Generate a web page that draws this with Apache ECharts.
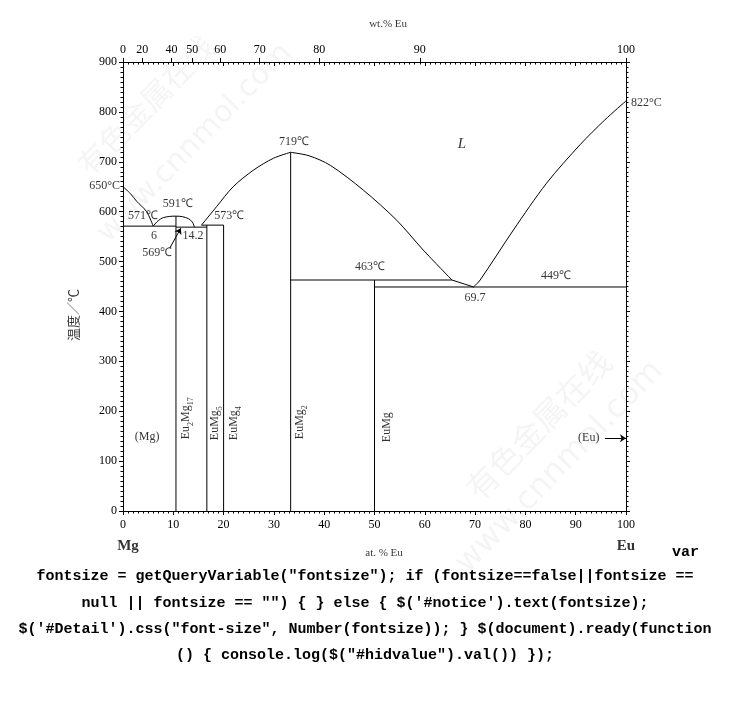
<!DOCTYPE html>
<html><head><meta charset="utf-8">
<script src="https://cdn.jsdelivr.net/npm/echarts@6/dist/echarts.min.js"></script>
<style>
html,body{margin:0;padding:0;background:#fff;}
#c{position:absolute;left:0;top:0;width:730px;height:705px;}
.js{position:absolute;font-family:"Liberation Mono","DejaVu Sans Mono",monospace;font-weight:bold;font-size:15px;color:#000;white-space:pre;line-height:18px;}
</style></head><body>
<div id="c"></div>
<div class="js" style="left:672px;top:544px;">var</div>
<div class="js" style="left:0;width:730px;text-align:center;top:568px;">fontsize = getQueryVariable("fontsize"); if (fontsize==false||fontsize ==</div>
<div class="js" style="left:0;width:730px;text-align:center;top:595px;">null || fontsize == "") { } else { $('#notice').text(fontsize);</div>
<div class="js" style="left:0;width:730px;text-align:center;top:621px;">$('#Detail').css("font-size", Number(fontsize)); } $(document).ready(function</div>
<div class="js" style="left:0;width:730px;text-align:center;top:647px;">() { console.log($("#hidvalue").val()) });</div>
<script>
// ---- data (x: at.% Eu, y: temperature °C) ----
const liqMgSide     = [[0,650],[1.5,636],[2.7,621],[4.7,600],[6,571]];
const dome591       = [[6,571],[7,582],[8,588],[9.3,590.5],[10.53,591],[11.8,590],[13,586],[13.8,579],[14.2,569]];
const eut571        = [[0,571],[10.53,571]];
const eut569        = [[10.53,569],[16.67,569]];
const per573        = [[15.6,573],[20,573]];
const lineEu2Mg17   = [[10.53,0],[10.53,591]];
const lineEuMg5     = [[16.67,0],[16.67,573]];
const lineEuMg4     = [[20,0],[20,573]];
const liqEuMg2Left  = [[15.6,573],[18.6,610],[21.9,650],[25.9,683],[29.9,707],[33.33,719]];
const liqEuMg2Right = [[33.33,719],[37,712],[41.2,693],[47.8,643],[54.4,583],[59.7,523],[65.4,463]];
const liqToEut      = [[65.4,463],[69.7,449]];
const liqEuSide     = [[69.7,449],[71,463],[77.6,563],[84.2,657],[90.85,734],[95.8,784],[100,822]];
const lineEuMg2     = [[33.33,0],[33.33,719]];
const per463        = [[33.33,463],[65.4,463]];
const lineEuMg      = [[50,0],[50,463]];
const eut449        = [[50,449],[100,449]];
const arrow569      = [[9.3,527],[11.5,567]];
const arrowEu       = [[95.8,146],[100,146]];

const bottomTicks = [0,10,20,30,40,50,60,70,80,90,100];
const tempTicks   = [0,100,200,300,400,500,600,700,800,900];
const wtTicks     = [0,20,40,50,60,70,80,90,100];

// annotations: [at.%, °C, text]
const pointLabels = [
  [4.0,591,'571℃'],[6.16,551,'6'],[10.9,615,'591℃'],[6.8,517,'569℃'],
  [13.9,551,'14.2'],[21.1,591,'573℃'],[34.0,740,'719℃'],[49.1,489,'463℃'],
  [86.1,471,'449℃'],[70.0,427,'69.7'],[4.8,148,'(Mg)'],[92.6,146,'(Eu)']
];
const phaseLabels = [
  [12.5,186,'{a|Eu}{s|2}{a|Mg}{s|17}'],[18.3,176,'{a|EuMg}{s|5}'],[22.1,176,'{a|EuMg}{s|4}'],
  [35.2,178,'{a|EuMg}{s|2}'],[52.5,168,'{a|EuMg}']
];

// wt.% -> at.% conversion for the top axis (Eu 151.96, Mg 24.305)
const toAt = w => { const a = w/151.96, b = (100-w)/24.305; return a/(a+b)*100; };
const wtAt = wtTicks.map(toAt);

const serif = 'Liberation Serif';
const black = '#000';

function lineSeries(data, smooth){
  return {type:'line', data, showSymbol:false, symbol:'none', smooth: smooth?0.3:false,
    lineStyle:{color:black,width:1}, silent:true, z:3, animation:false, clip:false};
}
function arrowSeries(pts){
  return {type:'lines', coordinateSystem:'cartesian2d', symbol:['none','arrow'], symbolSize:6,
    lineStyle:{color:black,width:1,opacity:1}, data:[{coords:pts}], silent:true, animation:false, z:4};
}

const chart = echarts.init(document.getElementById('c'), null, {renderer:'canvas'});

const labelItems = pointLabels.map(p => ({value:[p[0],p[1]], label:{formatter:p[2]}}));
labelItems.push({value:[67.4,736], label:{formatter:'L', fontStyle:'italic', fontSize:15}});
labelItems.push({value:[0,651], label:{formatter:'650°C', position:'left', distance:3}});
labelItems.push({value:[100,818], label:{formatter:'822°C', position:'right', distance:5}});
labelItems.push({value:[1,-70], label:{formatter:'Mg', fontWeight:'bold', fontSize:15}});
labelItems.push({value:[100,-70], label:{formatter:'Eu', fontWeight:'bold', fontSize:15}});
labelItems.push({value:[51.9,-84], label:{formatter:'at. % Eu', fontSize:11}});
labelItems.push({value:[52.7,976], label:{formatter:'wt.% Eu', fontSize:11}});
labelItems.push({value:[-10,393], label:{formatter:'温度／℃', rotate:90, fontFamily:'Noto Sans CJK SC', fontSize:13}});

const phaseItems = phaseLabels.map(p => ({value:[p[0],p[1]], label:{formatter:p[2]}}));

const axLine = {show:true,onZero:false,lineStyle:{color:black,width:1}};
const wm = 'rgba(0,0,0,0.045)';
const option = {
  animation:false,
  backgroundColor:'#fff',
  grid:{left:123,right:104,top:62,bottom:194,containLabel:false},
  xAxis:[
    {type:'value',min:0,max:100,interval:10,position:'bottom',
     axisLine:axLine,
     axisTick:{show:true,length:4,lineStyle:{color:black}},
     minorTick:{show:true,splitNumber:10,length:2.5,lineStyle:{color:black}},
     axisLabel:{color:black,fontFamily:serif,fontSize:12,margin:8,
       formatter:v=> bottomTicks.includes(v)? String(v):''},
     splitLine:{show:false}},
    {type:'value',min:0,max:100,interval:10,position:'top',offset:0,
     axisLine:axLine,
     axisTick:{show:true,inside:true,length:4,lineStyle:{color:black}},
     minorTick:{show:true,splitNumber:10,length:2.5,lineStyle:{color:black}},
     axisLabel:{show:false},splitLine:{show:false}},
    {type:'value',min:0,max:100,position:'top',offset:0,
     axisLine:{show:false,onZero:false},
     axisTick:{show:true,customValues:wtAt,length:4,lineStyle:{color:black}},
     axisLabel:{show:true,customValues:wtAt,color:black,fontFamily:serif,fontSize:12,margin:6,
       formatter:(v)=>{let bi=0,bd=1e9;wtAt.forEach((a,i)=>{const d=Math.abs(a-v);if(d<bd){bd=d;bi=i;}});return String(wtTicks[bi]);}},
     splitLine:{show:false}}
  ],
  yAxis:[
    {type:'value',min:0,max:900,interval:100,position:'left',
     axisLine:axLine,
     axisTick:{show:true,length:4,lineStyle:{color:black}},
     minorTick:{show:true,splitNumber:10,length:2.5,lineStyle:{color:black}},
     axisLabel:{color:black,fontFamily:serif,fontSize:12,margin:6,
       formatter:v=> tempTicks.includes(v)? String(v):''},
     splitLine:{show:false}},
    {type:'value',min:0,max:900,interval:100,position:'right',
     axisLine:axLine,
     axisTick:{show:true,length:4,lineStyle:{color:black}},
     minorTick:{show:true,splitNumber:10,length:2.5,lineStyle:{color:black}},
     axisLabel:{show:false},splitLine:{show:false}}
  ],
  graphic:[
    {type:'text',left:72,top:30,rotation:0.8,z:0,silent:true,
     style:{text:'有色金属在线',font:'30px "Noto Sans CJK SC"',fill:wm}},
    {type:'text',left:92,top:38,rotation:0.8,z:0,silent:true,
     style:{text:'www.cnnmol.com',font:'30px "DejaVu Sans"',fill:wm}},
    {type:'text',left:460,top:345,rotation:0.8,z:0,silent:true,
     style:{text:'有色金属在线',font:'32px "Noto Sans CJK SC"',fill:wm}},
    {type:'text',left:450,top:355,rotation:0.8,z:0,silent:true,
     style:{text:'www.cnnmol.com',font:'32px "DejaVu Sans"',fill:wm}}
  ],
  series:[
    lineSeries(liqMgSide,true), lineSeries(dome591,true), lineSeries(eut571), lineSeries(eut569),
    lineSeries(per573), lineSeries(lineEu2Mg17), lineSeries(lineEuMg5), lineSeries(lineEuMg4),
    lineSeries(liqEuMg2Left,true), lineSeries(liqEuMg2Right,true), lineSeries(liqToEut),
    lineSeries(liqEuSide,true), lineSeries(lineEuMg2), lineSeries(per463), lineSeries(lineEuMg),
    lineSeries(eut449),
    arrowSeries(arrow569), arrowSeries(arrowEu),
    {type:'scatter',symbolSize:0,clip:false,silent:true,z:5,data:labelItems,
     label:{show:true,position:'inside',color:black,fontFamily:serif,fontSize:12}},
    {type:'scatter',symbolSize:0,clip:false,silent:true,z:5,data:phaseItems,
     label:{show:true,position:'inside',rotate:90,color:black,fontFamily:serif,
       rich:{a:{fontFamily:serif,fontSize:12,color:black,lineHeight:18},
             s:{fontFamily:serif,fontSize:8,color:black,lineHeight:9,verticalAlign:'bottom'}}}}
  ]
};
chart.setOption(option);
</script>
</body></html>
